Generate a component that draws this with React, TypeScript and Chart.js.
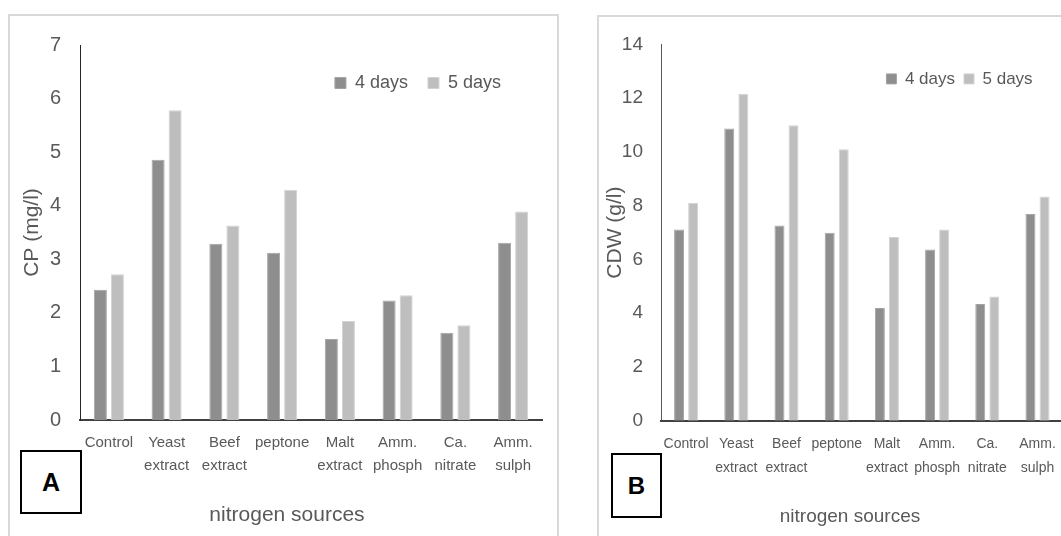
import React, { useEffect, useRef } from "react";
import { Chart, registerables } from "chart.js";

Chart.register(...registerables);

// ---------- data ----------
const categories: string[][] = [
  ["Control"],
  ["Yeast", "extract"],
  ["Beef", "extract"],
  ["peptone"],
  ["Malt", "extract"],
  ["Amm.", "phosph"],
  ["Ca.", "nitrate"],
  ["Amm.", "sulph"],
];
const seriesNames = ["4 days", "5 days"];

const cpDay4 = [2.43, 4.86, 3.29, 3.12, 1.51, 2.23, 1.63, 3.31];
const cpDay5 = [2.72, 5.78, 3.63, 4.3, 1.85, 2.33, 1.77, 3.89];
const cpTicks = [0, 1, 2, 3, 4, 5, 6, 7];

const cdwDay4 = [7.11, 10.87, 7.26, 6.99, 4.19, 6.37, 4.34, 7.69];
const cdwDay5 = [8.1, 12.16, 10.99, 10.1, 6.83, 7.11, 4.62, 8.34];
const cdwTicks = [0, 2, 4, 6, 8, 10, 12, 14];

const yTitleA = "CP (mg/l)";
const yTitleB = "CDW (g/l)";
const xTitle = "nitrogen sources";
const panelLetters = ["A", "B"];

// ---------- styles ----------
const FONT = "'Liberation Sans', Arial, sans-serif";
const TEXT = "#595959";
const DARK = "#8e8e8e";
const DARK_EDGE = "#a4a4a4";
const LIGHT = "#bebebe";
const LIGHT_EDGE = "#d3d3d3";

type PanelProps = {
  left: number;
  top: number;
  width: number;
  height: number;
  area: { left: number; top: number; right: number; bottom: number };
  day4: number[];
  day5: number[];
  ticks: number[];
  yTitle: string;
  yTitleSize: number;
  yTitlePad: number;
  yTickSize: number;
  yTickPad: number;
  yAxisColor: string;
  xTickSize: number;
  xTickLineHeight: number;
  xTickPad: number;
  catPct: number;
  barPct: number;
  legendFont: number;
  legendBox: number;
  legendPad: number;
  legendDx: number;
  legendDy: number;
};

function makeFloatLegend(dx: number, dy: number) {
  return {
    id: "floatLegend",
    beforeLayout(chart: any) {
      const lg: any = chart.legend;
      if (lg && !lg.__floatPatched) {
        const fit = lg.fit.bind(lg);
        lg.fit = function () {
          fit();
          this.height = 0;
        };
        lg.__floatPatched = true;
      }
    },
    afterLayout(chart: any) {
      const lg: any = chart.legend;
      const a = chart.chartArea;
      if (!lg || !a) return;
      lg.top = a.top + dy;
      lg.bottom = lg.top + 50;
      lg.left = a.left;
      lg.right = a.right - dx;
    },
  };
}

function Panel(p: PanelProps) {
  const ref = useRef<HTMLCanvasElement | null>(null);
  useEffect(() => {
    if (!ref.current) return;
    const chart = new Chart(ref.current, {
      type: "bar",
      data: {
        labels: categories,
        datasets: [
          {
            label: seriesNames[0],
            data: p.day4,
            backgroundColor: DARK,
            borderColor: DARK_EDGE,
            borderWidth: 1,
            categoryPercentage: p.catPct,
            barPercentage: p.barPct,
          },
          {
            label: seriesNames[1],
            data: p.day5,
            backgroundColor: LIGHT,
            borderColor: LIGHT_EDGE,
            borderWidth: 1,
            categoryPercentage: p.catPct,
            barPercentage: p.barPct,
          },
        ],
      },
      options: {
        responsive: false,
        animation: false,
        devicePixelRatio: 1,
        layout: {
          padding: {
            top: p.area.top,
            right: p.width - p.area.right,
            left: 0,
            bottom: 0,
          },
        },
        plugins: {
          legend: {
            display: true,
            position: "top",
            align: "end",
            labels: {
              boxWidth: p.legendBox,
              boxHeight: p.legendBox,
              padding: p.legendPad,
              color: TEXT,
              font: { family: FONT, size: p.legendFont },
            },
          },
          tooltip: { enabled: false },
          title: { display: false },
        },
        scales: {
          x: {
            grid: { display: false, drawTicks: false },
            border: { display: true, color: "#404040", width: 2 },
            ticks: {
              autoSkip: false,
              maxRotation: 0,
              minRotation: 0,
              padding: p.xTickPad,
              color: TEXT,
              font: { family: FONT, size: p.xTickSize, lineHeight: p.xTickLineHeight },
            },
            afterFit: (s: any) => {
              s.height = p.height - p.area.bottom;
            },
          },
          y: {
            min: p.ticks[0],
            max: p.ticks[p.ticks.length - 1],
            afterBuildTicks: (s: any) => {
              s.ticks = p.ticks.map((v) => ({ value: v }));
            },
            grid: { display: false, drawTicks: false },
            border: { display: true, color: p.yAxisColor, width: 1 },
            ticks: {
              padding: p.yTickPad,
              color: TEXT,
              font: { family: FONT, size: p.yTickSize },
            },
            title: {
              display: true,
              text: p.yTitle,
              color: TEXT,
              font: { family: FONT, size: p.yTitleSize },
              padding: { top: p.yTitlePad, bottom: 0 },
            },
            afterFit: (s: any) => {
              s.width = p.area.left;
            },
          },
        },
      } as any,
      plugins: [makeFloatLegend(p.legendDx, p.legendDy)],
    });
    return () => chart.destroy();
  }, []);
  return (
    <canvas
      ref={ref}
      width={p.width}
      height={p.height}
      style={{
        position: "absolute",
        left: p.left,
        top: p.top,
        width: p.width,
        height: p.height,
      }}
    />
  );
}

const textStyle = (cx: number, cy: number, size: number): React.CSSProperties => ({
  position: "absolute",
  left: cx,
  top: cy,
  transform: "translate(-50%, -50%)",
  fontFamily: FONT,
  fontSize: size,
  lineHeight: 1,
  color: TEXT,
  whiteSpace: "nowrap",
});

const letterBox = (l: number, t: number, w: number, h: number, size: number): React.CSSProperties => ({
  position: "absolute",
  left: l,
  top: t,
  width: w,
  height: h,
  boxSizing: "border-box",
  border: "2px solid #000",
  background: "#fff",
  display: "flex",
  alignItems: "center",
  justifyContent: "center",
  fontFamily: FONT,
  fontWeight: "bold",
  fontSize: size,
  color: "#000",
});

export default function App() {
  return (
    <div
      style={{
        position: "absolute",
        left: 0,
        top: 0,
        width: 1061,
        height: 536,
        overflow: "hidden",
        background: "#fff",
      }}
    >
      <div
        style={{
          position: "absolute",
          left: 8,
          top: 14,
          width: 551,
          height: 600,
          boxSizing: "border-box",
          border: "2px solid #d9d9d9",
        }}
      />
      <div
        style={{
          position: "absolute",
          left: 597,
          top: 15,
          width: 600,
          height: 600,
          boxSizing: "border-box",
          border: "2px solid #d9d9d9",
        }}
      />
      <Panel
        left={8}
        top={14}
        width={550}
        height={522}
        area={{ left: 72, top: 28, right: 534, bottom: 406 }}
        day4={cpDay4}
        day5={cpDay5}
        ticks={cpTicks}
        yTitle={yTitleA}
        yTitleSize={21}
        yTitlePad={12}
        yTickSize={20}
        yTickPad={19}
        yAxisColor="#262626"
        xTickSize={15}
        xTickLineHeight={1.55}
        xTickPad={11}
        catPct={0.59}
        barPct={0.765}
        legendFont={18}
        legendBox={11}
        legendPad={20}
        legendDx={21}
        legendDy={9}
      />
      <Panel
        left={597}
        top={15}
        width={480}
        height={521}
        area={{ left: 64, top: 27, right: 465.6, bottom: 405.7 }}
        day4={cdwDay4}
        day5={cdwDay5}
        ticks={cdwTicks}
        yTitle={yTitleB}
        yTitleSize={21}
        yTitlePad={6}
        yTickSize={19}
        yTickPad={18}
        yAxisColor="#595959"
        xTickSize={14}
        xTickLineHeight={1.7}
        xTickPad={12}
        catPct={0.56}
        barPct={0.71}
        legendFont={17}
        legendBox={10}
        legendPad={9}
        legendDx={21}
        legendDy={17}
      />
      <div style={textStyle(287, 513, 21)}>{xTitle}</div>
      <div style={textStyle(850, 515, 19)}>{xTitle}</div>
      <div style={letterBox(20, 450, 62, 64, 25)}>{panelLetters[0]}</div>
      <div style={letterBox(611, 453, 51, 65, 24)}>{panelLetters[1]}</div>
    </div>
  );
}
